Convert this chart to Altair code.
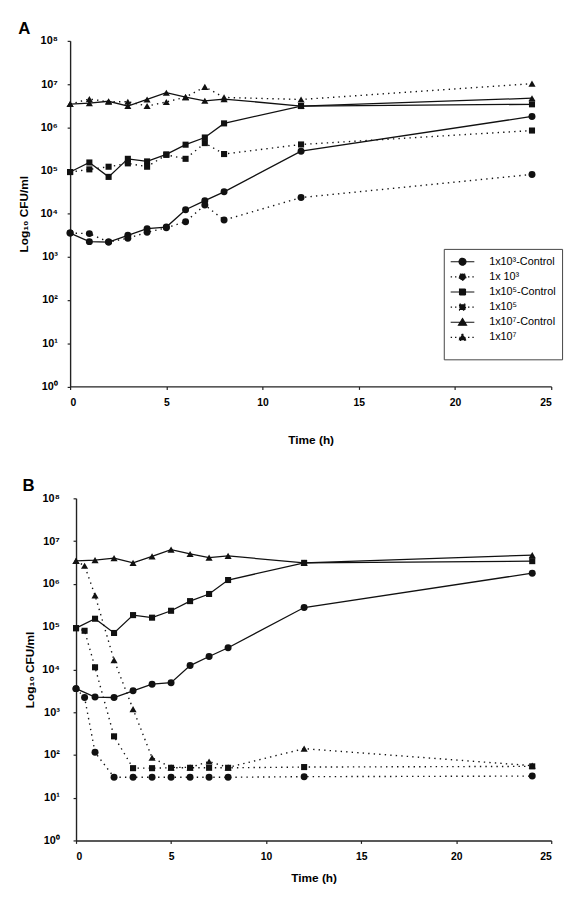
import altair as alt
import pandas as pd

FONT = "Liberation Sans"

SERIES = ["1x10³-Control", "1x 10³", "1x10⁵-Control", "1x10⁵", "1x10⁷-Control", "1x10⁷"]
GROUPS = [3, 3, 5, 5, 7, 7]
KINDS = ["control", "treated", "control", "treated", "control", "treated"]

T_MAIN = [0, 1, 2, 3, 4, 5, 6, 7, 8, 12, 24]
T_B_TREATED = [0, 0.45, 1, 2, 3, 4, 5, 6, 7, 8, 12, 24]

# controls (same cultures in both panels)
CTRL_3 = [3.55e3, 2.25e3, 2.2e3, 3.15e3, 4.5e3, 4.9e3, 1.23e4, 2.0e4, 3.2e4, 2.8e5, 1.78e6]
CTRL_5 = [9.2e4, 1.53e5, 7.1e4, 1.86e5, 1.62e5, 2.35e5, 3.95e5, 5.8e5, 1.23e6, 3.1e6, 3.4e6]
CTRL_7 = [3.45e6, 3.6e6, 4.0e6, 3.1e6, 4.4e6, 6.3e6, 5.0e6, 4.1e6, 4.5e6, 3.1e6, 4.7e6]

# panel A treated
A_3 = [3.55e3, 3.45e3, 2.2e3, 2.7e3, 3.7e3, 4.7e3, 6.5e3, 1.58e4, 7.1e3, 2.36e4, 8.1e4]
A_5 = [9.2e4, 1.06e5, 1.22e5, 1.46e5, 1.22e5, 2.3e5, 1.86e5, 4.3e5, 2.4e5, 4.0e5, 8.4e5]
A_7 = [3.45e6, 4.5e6, 3.9e6, 3.9e6, 3.1e6, 3.85e6, 5.0e6, 8.6e6, 4.9e6, 4.4e6, 1.02e7]

# panel B treated
B_3 = [3.55e3, 2.2e3, 115, 30, 30, 30, 30, 30, 30, 30, 31, 32]
B_5 = [9.2e4, 8.0e4, 1.12e4, 272, 49, 49, 50, 50, 50, 50, 52, 54]
B_7 = [3.45e6, 2.65e6, 5.4e5, 1.65e4, 1.18e3, 86, 51, 51, 70, 51, 140, 56]

Y_TICKS = [1, 10, 100, 1e3, 1e4, 1e5, 1e6, 1e7, 1e8]
X_TICKS = [0, 5, 10, 15, 20, 25]

CIRCLE = "M-2,0H2M0.58,0A0.58,0.58,0,1,1,-0.58,0A0.58,0.58,0,1,1,0.58,0Z"
SQUARE = "M-2,0H2M-0.5,-0.5H0.5V0.5H-0.5Z"
TRIANGLE = "M-2,0H2M0,-0.62L0.68,0.5H-0.68Z"
LEGEND_PATHS = [CIRCLE, CIRCLE, SQUARE, SQUARE, TRIANGLE, TRIANGLE]
LEGEND_DASH = [[1, 0], [1.4, 3.0], [1, 0], [1.4, 3.0], [1, 0], [1.4, 3.0]]


def build(series_values):
    rows = []
    for name, grp, kind, (times, vals) in zip(SERIES, GROUPS, KINDS, series_values):
        for t, v in zip(times, vals):
            rows.append({"t": t, "cfu": v, "series": name, "grp": grp, "kind": kind})
    return pd.DataFrame(rows)


df_a = build([(T_MAIN, CTRL_3), (T_MAIN, A_3), (T_MAIN, CTRL_5), (T_MAIN, A_5),
              (T_MAIN, CTRL_7), (T_MAIN, A_7)])
df_b = build([(T_MAIN, CTRL_3), (T_B_TREATED, B_3), (T_MAIN, CTRL_5), (T_B_TREATED, B_5),
              (T_MAIN, CTRL_7), (T_B_TREATED, B_7)])

LABEL_EXPR = ("'10' + ['\u2070','\u00b9','\u00b2','\u00b3','\u2074','\u2075','\u2076','\u2077','\u2078']"
              "[round(log(datum.value)/LN10)]")


def panel(df, letter, width, height, x_range, y_offset, label_pad, leg_x, leg_y,
          title_dx, xtitle_y):
    x = alt.X("t:Q", scale=alt.Scale(domain=[0, 25], nice=False, zero=False, range=x_range),
              axis=alt.Axis(values=X_TICKS, format="d", title="Time (h)",
                            titleY=xtitle_y, titleBaseline="middle"))
    y = alt.Y("cfu:Q", scale=alt.Scale(type="log", domain=[1, 1e8], nice=False),
              axis=alt.Axis(values=Y_TICKS, labelExpr=LABEL_EXPR, offset=y_offset,
                            labelPadding=label_pad,
                            title="Log\u2081\u2080 CFU/ml", titleX=-47.5, titleY=height / 2,
                            titleBaseline="middle"))
    base = alt.Chart(df)
    solid = base.transform_filter("datum.kind == 'control'").mark_line(
        color="#111", strokeWidth=1.3).encode(x=x, y=y, detail="series:N")
    dotted = base.transform_filter("datum.kind == 'treated'").mark_line(
        color="#111", strokeWidth=1.4, strokeDash=[1.4, 4.2]).encode(x=x, y=y, detail="series:N")
    circ = base.transform_filter("datum.grp == 3").mark_point(
        shape="circle", filled=True, size=50, color="#111", opacity=1).encode(x=x, y=y)
    sq = base.transform_filter("datum.grp == 5").mark_point(
        shape="square", filled=True, size=38, color="#111", opacity=1).encode(x=x, y=y)
    tri = base.transform_filter("datum.grp == 7").mark_point(
        shape="triangle-up", filled=True, size=52, color="#111", opacity=1).encode(x=x, y=y)
    legend = alt.Legend(
        orient="none", legendX=leg_x, legendY=leg_y, title=" ", titleOrient="bottom",
        titleFontSize=10, titlePadding=1,
        strokeColor="#444", fillColor="white", padding=6,
        symbolSize=144, symbolStrokeWidth=1.2, symbolOpacity=1,
        symbolOffset=6, labelOffset=20, rowPadding=2.35,
        labelFont=FONT, labelFontSize=11, labelColor="black",
    )
    leg = base.mark_point(filled=True, color="#111", fill="#111", stroke="#111",
                          strokeWidth=1.2, opacity=0).encode(
        x=x, y=y,
        shape=alt.Shape("series:N", scale=alt.Scale(domain=SERIES, range=LEGEND_PATHS),
                        legend=legend),
        strokeDash=alt.StrokeDash("series:N", scale=alt.Scale(domain=SERIES, range=LEGEND_DASH),
                                  legend=legend),
    )
    return alt.layer(solid, dotted, circ, sq, tri, leg).properties(
        width=width, height=height,
        title=alt.TitleParams(letter, anchor="start", frame="group", dx=title_dx,
                              fontSize=17, fontWeight="bold", font=FONT, color="black",
                              offset=0, dy=3),
    )


chart_a = panel(df_a, "A", 488, 350.5, [0, 488], 0, 10, 379, 211, -52.7, 54)
chart_b = panel(df_b, "B", 488, 347, [6, 488], -6, 14, 371, 111, -48.3, 38)

chart = alt.vconcat(chart_a, chart_b, spacing=31).properties(
    padding={"left": 9, "top": 5, "right": 5, "bottom": 5}
).configure_view(stroke="transparent").configure_axis(
    grid=False, domainColor="#222", domainWidth=1.4, tickColor="#222", tickWidth=1.2,
    tickSize=3, labelFont=FONT, labelFontWeight="bold", labelColor="black",
    titleFont=FONT, titleFontWeight="bold", titleFontSize=12, titleColor="black",
).configure_axisX(labelFontSize=10.5, labelPadding=8).configure_axisY(labelFontSize=11)

chart.save("out.html", embed_options={"renderer": "svg", "actions": False})
